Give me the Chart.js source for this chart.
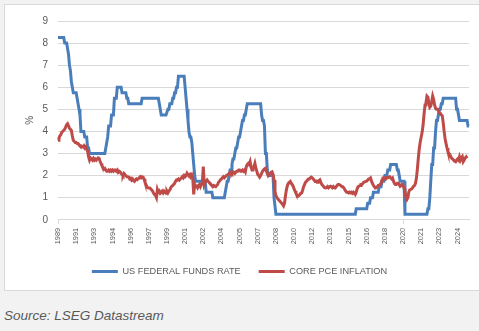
<!DOCTYPE html>
<html>
<head>
<meta charset="utf-8">
<script src="https://cdn.jsdelivr.net/npm/chart.js@4.4.1/dist/chart.umd.min.js"></script>
<style>
  body { margin: 0; background: #f2f2f2; width: 479px; height: 331px; overflow: hidden; position: relative; }
  #box { position: absolute; left: 4px; top: 4px; width: 480px; height: 285px; background: #fff; border: 1px solid #d9d9d9; }
  #chart { position: absolute; left: 0; top: 0; }
  #source { position: absolute; left: 4px; top: 307px; font: italic 13.5px "Liberation Sans", sans-serif; color: #595959; line-height: 18px; }
</style>
</head>
<body>
<div id="box"><canvas id="chart" width="474" height="285"></canvas></div>
<div id="source">Source: LSEG Datastream</div>
<script>
// monthly series, Dec 1989 .. Oct 2025
var startYear = 1989, startMonth = 11;
var tickEvery = 19;
var tickYears = ['1989', '1991', '1993', '1994', '1996', '1997', '1999', '2001', '2002', '2004', '2005', '2007',
                 '2008', '2010', '2012', '2013', '2015', '2016', '2018', '2020', '2021', '2023', '2024'];

var fedFunds = [].concat(
  [8.25],                                                        // 1989 Dec
  [8.25, 8.25, 8.25, 8.25, 8.25, 8.25, 8, 8, 8, 7.75, 7.5, 7],   // 1990
  [6.75, 6.25, 6, 5.75, 5.75, 5.75, 5.75, 5.5, 5.25, 5, 4.75, 4],
  [4, 4, 4, 3.75, 3.75, 3.75, 3.25, 3.25, 3, 3, 3, 3],
  [3, 3, 3, 3, 3, 3, 3, 3, 3, 3, 3, 3],
  [3, 3.25, 3.5, 3.75, 4.25, 4.25, 4.25, 4.75, 4.75, 4.75, 5.5, 5.5],
  [5.5, 6, 6, 6, 6, 6, 5.75, 5.75, 5.75, 5.75, 5.75, 5.5],      // 1995
  [5.5, 5.25, 5.25, 5.25, 5.25, 5.25, 5.25, 5.25, 5.25, 5.25, 5.25, 5.25],
  [5.25, 5.25, 5.25, 5.5, 5.5, 5.5, 5.5, 5.5, 5.5, 5.5, 5.5, 5.5],
  [5.5, 5.5, 5.5, 5.5, 5.5, 5.5, 5.5, 5.5, 5.5, 5.25, 5, 4.75],
  [4.75, 4.75, 4.75, 4.75, 4.75, 4.75, 5, 5, 5.25, 5.25, 5.25, 5.5],
  [5.5, 5.75, 5.75, 6, 6, 6.5, 6.5, 6.5, 6.5, 6.5, 6.5, 6.5],   // 2000
  [6, 5.5, 5, 4.5, 4, 3.75, 3.75, 3.5, 3, 2.5, 2, 1.75],
  [1.75, 1.75, 1.75, 1.75, 1.75, 1.75, 1.75, 1.75, 1.75, 1.75, 1.25, 1.25],
  [1.25, 1.25, 1.25, 1.25, 1.25, 1, 1, 1, 1, 1, 1, 1],
  [1, 1, 1, 1, 1, 1, 1.25, 1.5, 1.75, 1.75, 2, 2.25],
  [2.25, 2.5, 2.75, 2.75, 3, 3.25, 3.25, 3.5, 3.75, 3.75, 4, 4.25], // 2005
  [4.5, 4.5, 4.75, 4.75, 5, 5.25, 5.25, 5.25, 5.25, 5.25, 5.25, 5.25],
  [5.25, 5.25, 5.25, 5.25, 5.25, 5.25, 5.25, 5.25, 4.75, 4.5, 4.5, 4.25],
  [3, 3, 2.25, 2, 2, 2, 2, 2, 2, 1, 1, 0.25],
  [0.25, 0.25, 0.25, 0.25, 0.25, 0.25, 0.25, 0.25, 0.25, 0.25, 0.25, 0.25],
  [0.25, 0.25, 0.25, 0.25, 0.25, 0.25, 0.25, 0.25, 0.25, 0.25, 0.25, 0.25], // 2010
  [0.25, 0.25, 0.25, 0.25, 0.25, 0.25, 0.25, 0.25, 0.25, 0.25, 0.25, 0.25],
  [0.25, 0.25, 0.25, 0.25, 0.25, 0.25, 0.25, 0.25, 0.25, 0.25, 0.25, 0.25],
  [0.25, 0.25, 0.25, 0.25, 0.25, 0.25, 0.25, 0.25, 0.25, 0.25, 0.25, 0.25],
  [0.25, 0.25, 0.25, 0.25, 0.25, 0.25, 0.25, 0.25, 0.25, 0.25, 0.25, 0.25],
  [0.25, 0.25, 0.25, 0.25, 0.25, 0.25, 0.25, 0.25, 0.25, 0.25, 0.25, 0.5], // 2015
  [0.5, 0.5, 0.5, 0.5, 0.5, 0.5, 0.5, 0.5, 0.5, 0.5, 0.5, 0.75],
  [0.75, 0.75, 1, 1, 1, 1.25, 1.25, 1.25, 1.25, 1.25, 1.25, 1.5],
  [1.5, 1.5, 1.75, 1.75, 1.75, 2, 2, 2, 2.25, 2.25, 2.25, 2.5],
  [2.5, 2.5, 2.5, 2.5, 2.5, 2.5, 2.25, 2.25, 2, 1.75, 1.75, 1.75],
  [1.75, 1.75, 0.25, 0.25, 0.25, 0.25, 0.25, 0.25, 0.25, 0.25, 0.25, 0.25], // 2020
  [0.25, 0.25, 0.25, 0.25, 0.25, 0.25, 0.25, 0.25, 0.25, 0.25, 0.25, 0.25],
  [0.25, 0.25, 0.5, 0.5, 1, 1.75, 2.5, 2.5, 3.25, 3.25, 4, 4.5],
  [4.5, 4.75, 5, 5, 5.25, 5.25, 5.5, 5.5, 5.5, 5.5, 5.5, 5.5],
  [5.5, 5.5, 5.5, 5.5, 5.5, 5.5, 5.5, 5.5, 5, 5, 4.75, 4.5],
  [4.5, 4.5, 4.5, 4.5, 4.5, 4.5, 4.5, 4.5, 4.25, 4.25]            // 2025 Jan-Oct
);

var corePce = [].concat(
  [3.6],                                                         // 1989 Dec
  [3.7, 3.8, 3.85, 3.97, 4, 4.05, 4.1, 4.2, 4.3, 4.35, 4.25, 4.15], // 1990
  [4.1, 4.05, 3.8, 3.6, 3.55, 3.5, 3.5, 3.45, 3.45, 3.4, 3.35, 3.35],
  [3.3, 3.3, 3.35, 3.25, 3.3, 3.2, 3.1, 2.85, 2.7, 2.8, 2.75, 2.7],
  [2.78, 2.7, 2.75, 2.7, 2.75, 2.8, 2.78, 2.65, 2.55, 2.45, 2.35, 2.3],
  [2.33, 2.25, 2.2, 2.2, 2.25, 2.2, 2.25, 2.2, 2.25, 2.2, 2.25, 2.25],
  [2.2, 2.25, 2.15, 2.2, 2.17, 2.1, 2.05, 2, 2.1, 2.05, 2, 1.95],   // 1995
  [1.95, 1.93, 1.85, 1.88, 1.8, 1.85, 1.78, 1.74, 1.8, 1.85, 1.82, 1.86],
  [1.9, 1.95, 1.9, 1.95, 1.93, 1.85, 1.7, 1.6, 1.5, 1.45, 1.44, 1.44],
  [1.4, 1.35, 1.3, 1.2, 1.15, 1.1, 1, 1.37, 1.25, 1.3, 1.2, 1.25],
  [1.3, 1.22, 1.3, 1.25, 1.2, 1.3, 1.22, 1.3, 1.35, 1.45, 1.52, 1.55],
  [1.6, 1.65, 1.75, 1.81, 1.8, 1.85, 1.8, 1.85, 1.89, 1.95, 1.9, 2],  // 2000
  [1.95, 2, 2.11, 2.05, 2, 2.05, 1.95, 2.03, 1.9, 1.15, 1.6, 1.5],
  [1.52, 1.45, 1.55, 1.6, 1.5, 1.6, 1.65, 2.41, 1.6, 1.7, 1.75, 1.8],
  [1.74, 1.7, 1.65, 1.6, 1.55, 1.5, 1.55, 1.52, 1.5, 1.55, 1.6, 1.7],
  [1.75, 1.81, 1.85, 1.9, 1.95, 1.9, 1.95, 2, 2.03, 2.05, 2.1, 2.1],
  [2.15, 2.1, 2.17, 2.15, 2.1, 2.15, 2.2, 2.2, 2.25, 2.25, 2.2, 2.2],  // 2005
  [2.25, 2.2, 2.25, 2.17, 2.4, 2.5, 2.55, 2.5, 2.63, 2.4, 2.25, 2.3],
  [2.4, 2.55, 2.35, 2.2, 2.05, 2, 1.93, 2, 2.1, 2.2, 2.25, 2.3],
  [2.33, 2.2, 2.1, 2, 2.05, 2.1, 2.15, 2.17, 2.05, 1.8, 1.29, 1.1],
  [1, 0.95, 0.9, 0.85, 0.8, 0.75, 0.7, 0.63, 0.75, 1.1, 1.37, 1.55],
  [1.65, 1.7, 1.74, 1.65, 1.6, 1.52, 1.4, 1.3, 1.2, 1.1, 1.07, 1.1],  // 2010
  [1.15, 1.2, 1.22, 1.35, 1.5, 1.6, 1.7, 1.74, 1.8, 1.85, 1.85, 1.9],
  [1.93, 1.9, 1.85, 1.8, 1.74, 1.75, 1.7, 1.75, 1.78, 1.81, 1.7, 1.6],
  [1.55, 1.5, 1.45, 1.44, 1.45, 1.5, 1.45, 1.5, 1.52, 1.5, 1.45, 1.5],
  [1.45, 1.44, 1.5, 1.55, 1.6, 1.6, 1.6, 1.55, 1.5, 1.5, 1.45, 1.37],
  [1.3, 1.25, 1.25, 1.22, 1.25, 1.22, 1.25, 1.2, 1.25, 1.2, 1.15, 1.25], // 2015
  [1.4, 1.5, 1.52, 1.55, 1.6, 1.6, 1.65, 1.7, 1.72, 1.74, 1.75, 1.8],
  [1.85, 1.85, 1.89, 1.75, 1.65, 1.55, 1.5, 1.44, 1.45, 1.5, 1.55, 1.55],
  [1.6, 1.65, 1.8, 1.89, 1.9, 1.9, 1.85, 1.9, 1.9, 1.93, 1.95, 1.9],
  [1.85, 1.89, 1.75, 1.65, 1.6, 1.6, 1.65, 1.65, 1.6, 1.52, 1.55, 1.6],
  [1.55, 1.44, 1.3, 1, 0.92, 1, 1.25, 1.35, 1.37, 1.4, 1.45, 1.52],    // 2020
  [1.55, 1.65, 1.89, 2.3, 2.8, 3.23, 3.53, 3.75, 3.97, 4.3, 4.8, 5.2],
  [5.3, 5.6, 5.55, 5.3, 5.1, 5.15, 5.35, 5.6, 5.45, 5.2, 5.05, 5],
  [5, 4.95, 4.85, 4.82, 4.75, 4.72, 4.4, 4, 3.67, 3.45, 3.25, 3.08],
  [3, 2.95, 2.85, 2.78, 2.75, 2.7, 2.65, 2.63, 2.7, 2.75, 2.7, 2.85],
  [2.7, 2.8, 2.86, 2.63, 2.7, 2.8, 2.85, 2.78]                     // 2025 Jan-Aug
);

var months = [];
for (var i = 0; i < fedFunds.length; i++) {
  var m = startMonth + i;
  months.push((startYear + Math.floor(m / 12)) + '-' + ('0' + (m % 12 + 1)).slice(-2));
}

var grey = '#595959';
var gridGrey = '#d9d9d9';

new Chart(document.getElementById('chart'), {
  type: 'line',
  data: {
    labels: months,
    datasets: [
      { label: 'US FEDERAL FUNDS RATE', data: fedFunds, borderColor: '#4a7ebb', backgroundColor: '#4a7ebb',
        borderWidth: 3, pointRadius: 0, tension: 0, order: 2 },
      { label: 'CORE PCE INFLATION', data: corePce, borderColor: '#be4b48', backgroundColor: '#be4b48',
        borderWidth: 3, pointRadius: 0, tension: 0, order: 1 }
    ]
  },
  options: {
    responsive: false,
    animation: false,
    layout: { padding: { left: 5, right: 10, top: 12, bottom: 4 } },
    plugins: {
      tooltip: { enabled: false },
      legend: {
        position: 'bottom',
        labels: {
          boxWidth: 26,
          boxHeight: 3,
          padding: 18,
          color: grey,
          font: { family: 'Liberation Sans', size: 9.2 },
          sort: function(a, b) { return a.datasetIndex - b.datasetIndex; },
          generateLabels: function(chart) {
            var items = Chart.defaults.plugins.legend.labels.generateLabels(chart);
            items.forEach(function(it) { it.lineWidth = 0; it.fillStyle = it.strokeStyle; });
            return items;
          }
        }
      }
    },
    scales: {
      x: {
        ticks: {
          autoSkip: false, minRotation: 90, maxRotation: 90, padding: 4,
          color: grey, font: { family: 'Liberation Sans', size: 7.4 },
          callback: function(v, idx) { return idx % tickEvery === 0 ? tickYears[idx / tickEvery] : null; }
        },
        grid: {
          drawOnChartArea: false, tickLength: 4,
          color: function(ctx) { return ctx.index % tickEvery === 0 ? gridGrey : 'rgba(0,0,0,0)'; }
        },
        border: { color: gridGrey },
        afterFit: function(s) { s.height = 29; }
      },
      y: {
        min: 0, max: 9,
        ticks: { stepSize: 1, padding: 10, color: grey, font: { family: 'Liberation Sans', size: 10 } },
        grid: { color: gridGrey, drawTicks: false },
        border: { display: false },
        title: { display: true, text: '%', color: grey, font: { family: 'Liberation Sans', size: 10 }, padding: { top: 14, bottom: 0 } },
        afterFit: function(s) { s.width = 48; }
      }
    }
  }
});
</script>
</body>
</html>
